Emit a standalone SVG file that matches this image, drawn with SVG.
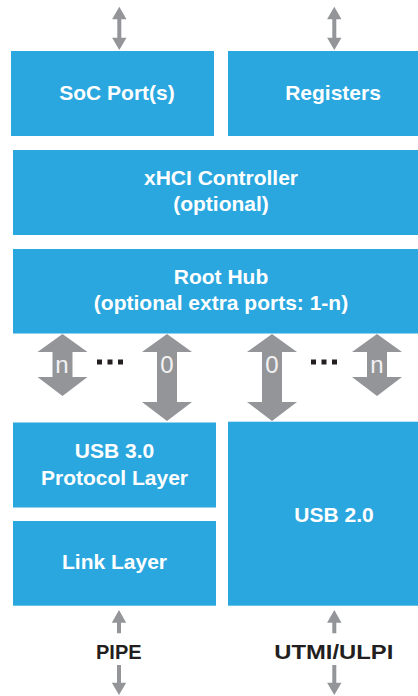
<svg xmlns="http://www.w3.org/2000/svg" width="418" height="696" viewBox="0 0 418 696">
<style>
.box{fill:#2aa7df}
.t{font-family:"Liberation Sans",Arial,sans-serif;font-weight:bold;font-size:21px;fill:#ffffff;text-anchor:middle}
.arr{fill:#949599}
.lbl{font-family:"Liberation Sans",Arial,sans-serif;font-size:24px;fill:#f2f2f2;text-anchor:middle}
.ext{font-family:"Liberation Sans",Arial,sans-serif;font-weight:bold;font-size:20px;fill:#231f20;text-anchor:middle}
.dot{fill:#231f20}
</style>
<rect width="418" height="696" fill="#ffffff"/>
<g id="soc"><rect class="box" x="11" y="51" width="203" height="85"/><text class="t" x="117" y="100">SoC Port(s)</text></g>
<g id="registers"><rect class="box" x="228" y="51" width="190" height="85"/><text class="t" x="333" y="100">Registers</text></g>
<g id="xhci"><rect class="box" x="13" y="150" width="405" height="85"/><text class="t" x="221" y="185">xHCI Controller</text><text class="t" x="221" y="211">(optional)</text></g>
<g id="roothub"><rect class="box" x="13" y="249" width="405" height="84.5"/><text class="t" x="221" y="284">Root Hub</text><text class="t" x="221" y="310">(optional extra ports: 1-n)</text></g>
<g id="usb3"><rect class="box" x="13" y="422.5" width="203" height="85"/><text class="t" x="114.5" y="457.5">USB 3.0</text><text class="t" x="114.5" y="485">Protocol Layer</text></g>
<g id="link"><rect class="box" x="13" y="521" width="203" height="84.7"/><text class="t" x="114.5" y="569">Link Layer</text></g>
<g id="usb2"><rect class="box" x="228" y="421.7" width="190" height="184"/><text class="t" x="334" y="521.5">USB 2.0</text></g>
<g id="connectors">
<polygon class="arr" points="119.3,6.7 126.5,19.3 121.3,19.3 121.3,37.7 126.5,37.7 119.3,50 112.1,37.7 117.3,37.7 117.3,19.3 112.1,19.3"/>
<polygon class="arr" points="334.3,6.7 341.5,19.3 336.3,19.3 336.3,37.7 341.5,37.7 334.3,50 327.1,37.7 332.3,37.7 332.3,19.3 327.1,19.3"/>
<polygon class="arr" points="62.5,334 87.5,352 72.5,352 72.5,377 87.5,377 62.5,396 37.5,377 52.5,377 52.5,352 37.5,352"/>
<polygon class="arr" points="167,334 192,352 177,352 177,402 192,402 167,421 142,402 157,402 157,352 142,352"/>
<polygon class="arr" points="272,334 297,352 282,352 282,402 297,402 272,421 247,402 262,402 262,352 247,352"/>
<polygon class="arr" points="377,334 402,352 387,352 387,377 402,377 377,396 352,377 367,377 367,352 352,352"/>
<text class="lbl" x="62" y="373">n</text>
<text class="lbl" x="167" y="373">0</text>
<text class="lbl" x="272" y="373">0</text>
<text class="lbl" x="377" y="373">n</text>
<rect class="dot" x="97" y="359.5" width="5" height="5"/><rect class="dot" x="107.5" y="359.5" width="5" height="5"/><rect class="dot" x="118" y="359.5" width="5" height="5"/>
<rect class="dot" x="311" y="359.5" width="5" height="5"/><rect class="dot" x="321.5" y="359.5" width="5" height="5"/><rect class="dot" x="332" y="359.5" width="5" height="5"/>
<polygon class="arr" points="119,610 126.2,622.7 121,622.7 121,633.3 117,633.3 117,622.7 111.8,622.7"/>
<polygon class="arr" points="119,695 126.2,682.7 121,682.7 121,665 117,665 117,682.7 111.8,682.7"/>
<polygon class="arr" points="334.3,610 341.5,622.7 336.3,622.7 336.3,633.3 332.3,633.3 332.3,622.7 327.1,622.7"/>
<polygon class="arr" points="334.3,695 341.5,682.7 336.3,682.7 336.3,665 332.3,665 332.3,682.7 327.1,682.7"/>
</g>
<text class="ext" x="118.8" y="659.3">PIPE</text>
<text class="ext" x="333.8" y="659.3" textLength="119" lengthAdjust="spacingAndGlyphs">UTMI/ULPI</text>
</svg>
